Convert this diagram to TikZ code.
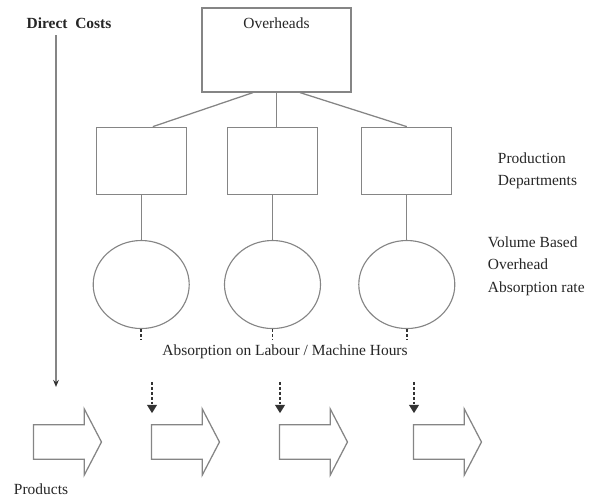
\documentclass[tikz,border=0pt]{standalone}
\usepackage{fontspec}
\setmainfont{Liberation Serif}
\usepackage{tikz}
\usetikzlibrary{arrows.meta,positioning,shapes.geometric,shapes.arrows}
\definecolor{linegray}{gray}{0.52}

\begin{document}
\begin{tikzpicture}[x=0.025cm,y=-0.025cm,thin,
                    every node/.style={font=\fontsize{11}{16}\selectfont,text=black!85},
                    dept box/.style={rectangle,draw=linegray,line width=0.9pt,minimum width=2.25cm,minimum height=1.675cm,inner sep=0pt},
                    rate node/.style={ellipse,draw=linegray,line width=0.8pt,minimum width=2.4cm,minimum height=2.2cm,inner sep=0pt},
                    product/.style={single arrow,draw=linegray,line width=0.9pt,minimum height=1.7cm,minimum width=1.625cm,
                                    single arrow head extend=0.4cm,single arrow tip angle=125,inner xsep=0pt,inner ysep=0.4125cm},
                    link/.style={draw=linegray,line width=0.9pt},
                    absorb/.style={draw=black!80,line width=1.3pt,dash pattern=on 2pt off 1.5pt},
                    absorb arrow/.style={absorb,-{Triangle[length=6pt,width=7pt]}},
                    cost arrow/.style={draw=linegray,line width=0.9pt,-{Stealth[length=5pt,width=4pt,black!80]}}]

  \useasboundingbox (0,0) rectangle (597,498);

  % overheads and the production departments
  \node[dept box, minimum width=3.725cm, minimum height=2.1cm,
        label={[anchor=north,yshift=-0.13cm]north:Overheads}] at (276.5,50) (over){};
  \node[dept box] [below = 0.85cm of over, xshift=-0.1cm] (dept2){};
  \node[dept box] [left = 1cm of dept2] (dept1){};
  \node[dept box] [right = 1.075cm of dept2] (dept3){};
  \node[anchor=west,align=left] at (493,171) (proddept){Production\\Departments};

  % absorption rates
  \node[rate node] [below = 1.125cm of dept1] (rate1){};
  \node[rate node] [below = 1.125cm of dept2] (rate2){};
  \node[rate node] [below = 1.125cm of dept3] (rate3){};
  \node[anchor=west,align=left] at (483,266) (volrate){Volume Based\\Overhead\\Absorption rate};
  \node at (285,352) (hours){Absorption on Labour / Machine Hours};

  % products
  \node[product] at (63,442) (prod1){};
  \node[product] at (181,442) (prod2){};
  \node[product] at (309,442) (prod3){};
  \node[product] at (443,442) (prod4){};
  \node[anchor=west] at (9,489) (products){Products};

  % direct costs
  \node at (69,23) (direct){\textbf{Direct~ Costs}};
  \coordinate (dcend) at ([xshift=0.675cm,yshift=1.375cm]prod1.west);

  \coordinate (stub1) at ([yshift=-0.28cm]rate1.south);
  \coordinate (stub2) at ([yshift=-0.28cm]rate2.south);
  \coordinate (stub3) at ([yshift=-0.28cm]rate3.south);
  \coordinate (from2) at ([xshift=0.03cm,yshift=1.5cm]prod2.west);
  \coordinate (from3) at ([xshift=0.03cm,yshift=1.5cm]prod3.west);
  \coordinate (from4) at ([xshift=0.03cm,yshift=1.5cm]prod4.west);

\path[link] ([xshift=-0.59cm]over.south) -- ([xshift=0.29cm]dept1.north);
\path[link] (over.south) -- (over.south |- dept2.north);
\path[link] ([xshift=0.59cm]over.south) -- (dept3.north);
\path (dept1) edge[link] (rate1);
\path (dept2) edge[link] (rate2);
\path (dept3) edge[link] (rate3);
\draw[absorb] (rate1.south) -- (stub1);
\draw[absorb] (rate2.south) -- (stub2);
\draw[absorb] (rate3.south) -- (stub3);
\draw[absorb arrow] (from2) -- ([xshift=0.03cm,yshift=0.72cm]prod2.west);
\draw[absorb arrow] (from3) -- ([xshift=0.03cm,yshift=0.72cm]prod3.west);
\draw[absorb arrow] (from4) -- ([xshift=0.03cm,yshift=0.72cm]prod4.west);
\draw[cost arrow] ([xshift=-0.325cm,yshift=-0.05cm]direct.south) -- ([xshift=-0.325cm]direct.south |- dcend);

\end{tikzpicture}
\end{document}
